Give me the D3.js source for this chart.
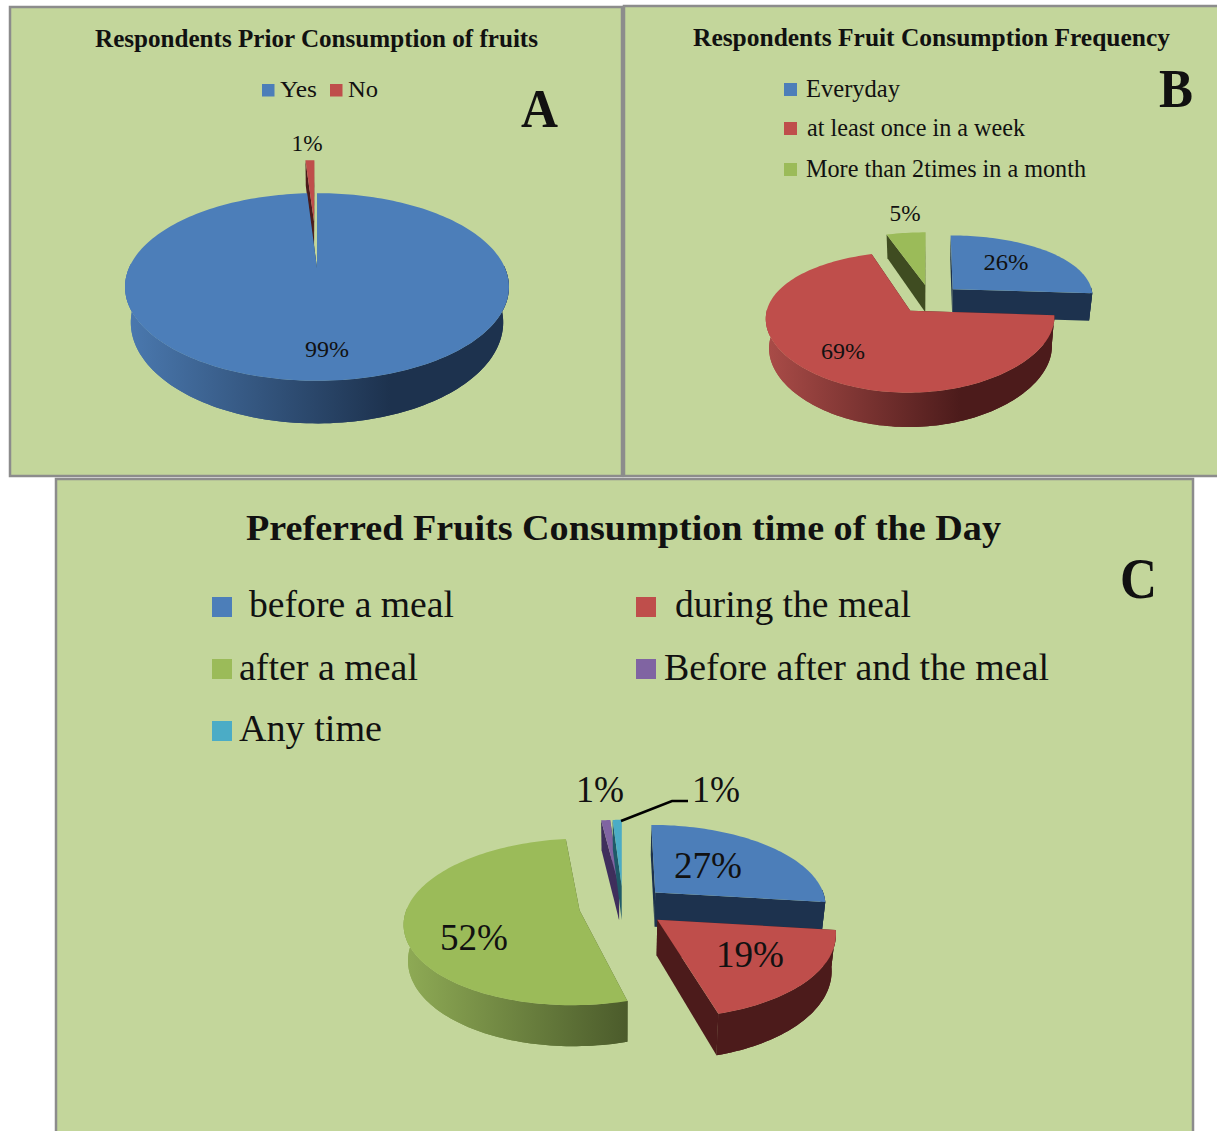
<!DOCTYPE html>
<html>
<head>
<meta charset="utf-8">
<script src="https://cdn.jsdelivr.net/npm/d3@7"></script>
<style>
html,body{margin:0;padding:0;background:#fff;overflow:hidden}
svg{display:block}
text{font-family:"Liberation Serif","Times New Roman",serif;fill:#111}
</style>
</head>
<body>
<svg id="c" width="1217" height="1131"></svg>
<script>
// ---- data ----
const aTitle = "Respondents Prior Consumption of fruits";
const aCategories = ["Yes", "No"];
const aValues = [99, 1];

const bTitle = "Respondents Fruit Consumption Frequency";
const bCategories = ["Everyday", "at least once in a week", "More than 2times in a month"];
const bValues = [26, 69, 5];

const cTitle = "Preferred Fruits Consumption time of the Day";
const cCategories = [" before a meal", " during the meal", "after a meal", "Before after and the meal", "Any time"];
const cValues = [26.9, 18.7, 52.4, 1, 1];

// ---- palette ----
const topColors  = ["#4c7eb9", "#bf4e4b", "#9bbb59", "#8064a2", "#4bacc6"];
const rimLight   = ["#4a78ae", "#a84b47", "#8da954", "#6b5488", "#3f90a6"];
const rimDark    = ["#1d324e", "#4c1b1b", "#4b5b2b", "#3f2f5c", "#1f5a68"];
const panelFill = "#c3d69b", panelEdge = "#8c8c8c";

// ---- layout ----
const panels = [
  { id:"a", rect:[10,7,612,469], title:aTitle, titleAt:[95,47,443,26], values:aValues, names:aCategories,
    letter:"A", letterAt:[521,127,37,54],
    view:{cx:317,cy:268,R:188,k:90,p:0.202,D:34,shrink:0.97,gx:[130,390]}, explode:[0,0.58], order:[1,0],
    legendSize:24, swatch:12.5,
    legend:[[262,84,280,97,37],[330,84,348,97,30]],
    labels:[[327,357,44],[307,151,31]], labelSize:24 },
  { id:"b", rect:[624,6,600,470], title:bTitle, titleAt:[693,46,477,26], values:bValues, names:bCategories,
    letter:"B", letterAt:[1159,107,34,54],
    view:{cx:930,cy:299,R:141,k:65,p:0.156,px:0.1,D:28,shrink:0.98,gx:[770,960]}, explode:[0.224,0.224,0.224], order:[2,0,1],
    cutShade:{2:"#3f4c21"},
    legendSize:25, swatch:13,
    legend:[[784,83,806,97,94],[784,122,807,136,218],[784,163,806,177,280]],
    labels:[[1006,270,45],[843,359,44],[905,221,31]], labelSize:24 },
  { id:"c", rect:[56,479,1137,670], title:cTitle, titleAt:[246,540,755,36], values:cValues, names:cCategories,
    letter:"C", letterAt:[1120,598,37,56],
    view:{cx:623,cy:906,R:172,k:80.6,p:0.139,D:35,shrink:0.98,gx:[410,628]}, explode:[0.256,0.256,0.256,0.256,0.256], order:[3,4,0,2,1],
    legendSize:38, swatch:20,
    legend:[[212,597,249,617,205],[636,597,675,617,236],[212,659,239,680,179],[636,659,664,680,385],[212,721,239,741,143]],
    labels:[[708,878,68],[750,967,68],[474,950,68],[600,802,48],[716,802,48]], labelSize:37,
    leader:[[621,821],[672,801],[688,801]] }
];

const svg = d3.select("#c");
const defs = svg.append("defs");
const pieGen = d3.pie().sort(null).value(d => d);
const pathLine = d3.line().x(d => d[0]).y(d => d[1]);

function placeText(g, str, x, y, size, weight, width, anchor) {
  const t = g.append("text").attr("x", x).attr("y", y).attr("font-size", size)
    .attr("font-weight", weight).attr("text-anchor", anchor || "start")
    .attr("xml:space", "preserve").text(str.trim());
  if (width) t.attr("textLength", width).attr("lengthAdjust", "spacingAndGlyphs");
  return t;
}

panels.forEach(P => {
  const g = svg.append("g").attr("class", "panel-" + P.id);
  const [rx, ry, rw, rh] = P.rect;
  g.append("rect").attr("x", rx).attr("y", ry).attr("width", rw).attr("height", rh)
    .attr("fill", panelFill).attr("stroke", panelEdge).attr("stroke-width", 2.5);

  placeText(g, P.title, P.titleAt[0], P.titleAt[1], P.titleAt[3], "bold", P.titleAt[2]);
  placeText(g, P.letter, P.letterAt[0], P.letterAt[1], P.letterAt[3], "bold", P.letterAt[2]);

  P.names.forEach((n, i) => {
    const L = P.legend[i];
    g.append("rect").attr("x", L[0]).attr("y", L[1]).attr("width", P.swatch).attr("height", P.swatch)
      .attr("fill", topColors[i]);
    placeText(g, n, L[2], L[3], P.legendSize, "normal", L[4]);
  });

  // perspective projection of the pie plane
  const V = P.view;
  const project = (U, W) => {
    const w = 1 - V.p * W;
    const wx = 1 - (V.px === undefined ? V.p : V.px) * W;
    return [V.cx + V.R * U / wx, V.cy + V.k * W / w, w];
  };
  const lower = pt => [V.cx + (pt[0] - V.cx) * V.shrink, pt[1] + V.D / pt[2]];
  const arcs = pieGen(P.values);

  const sliceGeom = (a, i) => {
    const mid = (a.startAngle + a.endAngle) / 2;
    const e = P.explode[i];
    const ox = e * Math.sin(mid), oy = -e * Math.cos(mid);
    const at = (th, r) => project(ox + r * Math.sin(th), oy - r * Math.cos(th));
    const n = Math.max(6, Math.ceil((a.endAngle - a.startAngle) / (Math.PI / 120)));
    const angles = d3.range(n + 1).map(j => a.startAngle + (a.endAngle - a.startAngle) * j / n);
    return { at, angles };
  };

  arcs.forEach((a, i) => {
    const grad = defs.append("linearGradient").attr("id", "rim-" + P.id + i)
      .attr("gradientUnits", "userSpaceOnUse")
      .attr("x1", V.gx[0]).attr("x2", V.gx[1]).attr("y1", 0).attr("y2", 0);
    grad.append("stop").attr("offset", 0).attr("stop-color", rimLight[i]);
    grad.append("stop").attr("offset", 1).attr("stop-color", rimDark[i]);
  });

  const pieG = g.append("g").attr("class", "pie");
  P.order.forEach(i => {
    const a = arcs[i];
    const { at, angles } = sliceGeom(a, i);
    const apex = at(0, 0);
    const rimPts = angles.map(t => at(t, 1));
    const cutFill = (P.cutShade && P.cutShade[i]) || rimDark[i];

    // straight cut faces
    [a.startAngle, a.endAngle].forEach(t => {
      const o = at(t, 1);
      pieG.append("path").attr("fill", cutFill)
        .attr("d", pathLine([apex, o, lower(o), lower(apex)]) + "Z");
    });
    // outer wall, only the part that faces the viewer
    const front = angles.filter(t => Math.cos(t) < 0.05).map(t => at(t, 1));
    if (front.length > 1) {
      const rimFill = `url(#rim-${P.id}${i})`;
      pieG.append("path").attr("fill", rimFill)
        .attr("d", pathLine(front.concat(front.map(lower).reverse())) + "Z");
      // separate strips fill the shoulders where the two rim curves cross
      const strips = d3.pairs(front).map(([s, t]) =>
        pathLine([s, t, lower(t), lower(s)]) + "Z").join("");
      pieG.append("path").attr("fill", rimFill).attr("d", strips);
    }
    // top face
    pieG.append("path").attr("fill", topColors[i])
      .attr("d", pathLine([apex].concat(rimPts)) + "Z");
  });

  if (P.leader) {
    g.append("path").attr("fill", "none").attr("stroke", "#000").attr("stroke-width", 2.5)
      .attr("d", pathLine(P.leader));
  }
  P.values.forEach((v, i) => {
    const L = P.labels[i];
    placeText(g, Math.round(v) + "%", L[0], L[1], P.labelSize, "normal", L[2], "middle");
  });
});
</script>
</body>
</html>
